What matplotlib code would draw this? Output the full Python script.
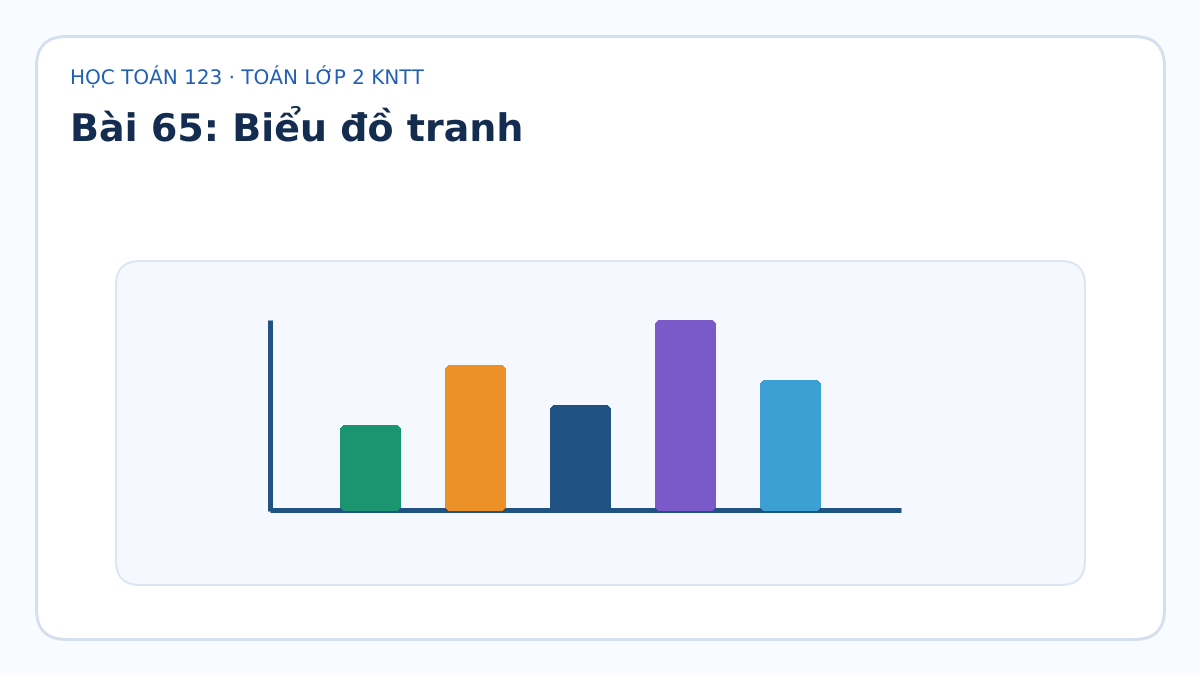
import matplotlib
matplotlib.use("Agg")
import matplotlib.pyplot as plt
from matplotlib.patches import FancyBboxPatch

kicker = "HỌC TOÁN 123 · TOÁN LỚP 2 KNTT"
title = "Bài 65: Biểu đồ tranh"
categories = ["A", "B", "C", "D", "E"]
values = [86, 146, 106, 191, 131]
bar_colors = ["#1a9570", "#ec9028", "#205282", "#7a5ac8", "#3ca0d4"]

W, H = 1200, 675
plt.rcParams["font.family"] = ["DejaVu Sans"]
plt.rcParams["text.hinting"] = "no_hinting"
plt.rcParams["text.hinting_factor"] = 1
fig = plt.figure(figsize=(W / 100, H / 100), dpi=100, facecolor="#f8fbff")

bg = fig.add_axes([0, 0, 1, 1], zorder=0)
bg.set_xlim(0, W)
bg.set_ylim(H, 0)
bg.axis("off")
bg.add_patch(FancyBboxPatch((36.5, 36.5), 1128, 603, boxstyle="round,pad=0,rounding_size=30",
                            fc="white", ec="#d5e0ef", lw=2.16))
bg.add_patch(FancyBboxPatch((116, 261), 969, 324, boxstyle="round,pad=0,rounding_size=24",
                            fc="#f5f8ff", ec="#dbe5f3", lw=1.44))
bg.text(70, 84, kicker, fontsize=14.4, color="#1f5fb4", va="baseline", ha="left")
bg.text(70, 140, title, fontsize=27.36, fontweight="bold", color="#132c4f", va="baseline", ha="left")

# chart axes: left 270 px .. right 901 px, baseline 511 px, top 320 px
ax = fig.add_axes([270 / W, (H - 511) / H, 631 / W, 191 / H], zorder=1)
ax.patch.set_visible(False)
step = 105
ax.set_xlim((270 - 370.5) / step, (901 - 370.5) / step)
ax.set_ylim(0, max(values))
ax.set_xticks([])
ax.set_yticks([])
for s in ("top", "right"):
    ax.spines[s].set_visible(False)
for s in ("left", "bottom"):
    ax.spines[s].set_linewidth(3.6)
    ax.spines[s].set_color("#205282")
    ax.spines[s].set_capstyle("butt")
ax.spines["left"].set_position(("outward", 0))
ax.spines["bottom"].set_position(("outward", -0.72))

bars = ax.bar(range(len(values)), values, width=61 / step, color=bar_colors)
for rect, c in zip(bars, bar_colors):
    rect.set_visible(False)
    box = FancyBboxPatch((rect.get_x(), rect.get_y()), rect.get_width(), rect.get_height(),
                         boxstyle=f"round,pad=0,rounding_size={8 / step}",
                         mutation_aspect=step, fc=c, ec="none", antialiased=False,
                         zorder=3, clip_on=False)
    ax.add_patch(box)

fig.savefig("out.png", dpi=100, facecolor=fig.get_facecolor())
